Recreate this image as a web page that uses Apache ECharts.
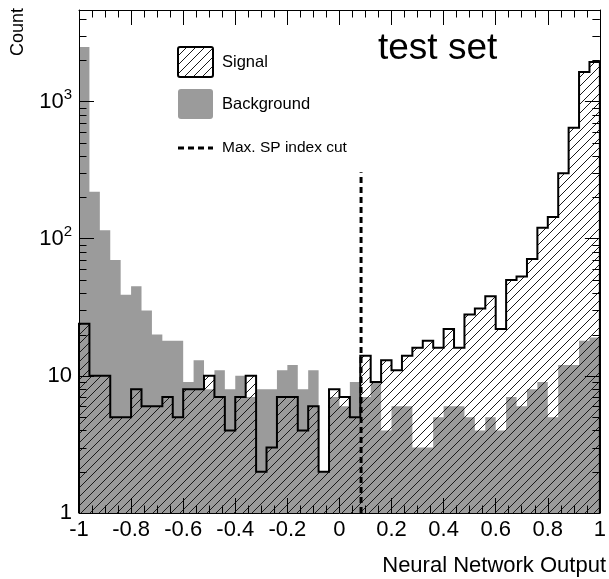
<!DOCTYPE html>
<html><head><meta charset="utf-8">
<script src="https://cdn.jsdelivr.net/npm/echarts@6/dist/echarts.min.js"></script>
<style>html,body{margin:0;padding:0;background:#fff}#c{width:609px;height:579px}</style>
</head><body><div id="c"></div>
<script>
// ---- data ----
const X_MIN = -1, X_MAX = 1, BIN_WIDTH = 0.04;
const Y_MIN = 1, Y_MAX = 4650;
const signalCounts = [24,10,10,5,5,8,6,6,7,5,8,8,10,7,4,7,10,2,3,7,7,4,6,2,8,7,5,14,9,13,11,14,16,18,16,22,16,28,31,38,22,50,53,71,120,144,300,644,1640,1940];
const backgroundCounts = [2500,220,115,70,39,45,30,20,18,18,9,13,8,11,8,10,7,8,8,11,12,8,11,2,7,6,9,7,9,4,6,6,3,3,5,6,6,5,4,5,4,7,6,8,9,5,12,12,18,19];
const cutValue = 0.083, cutTop = 305;
const xTickValues = [-1,-0.8,-0.6,-0.4,-0.2,0,0.2,0.4,0.6,0.8,1];
const xTickLabels = ['-1','-0.8','-0.6','-0.4','-0.2','0','0.2','0.4','0.6','0.8','1'];
const yTickExponents = [0,1,2,3];
const yTickLabels = ['1','10','10{sup|2}','10{sup|3}'];
const yMinorTickValues = [2,3,4,5,6,7,8,9,20,30,40,50,60,70,80,90,200,300,400,500,600,700,800,900,2000,3000,4000];
const legendLabels = ['Signal','Background','Max. SP index cut'];

const FONT = '"Liberation Sans", Arial, Helvetica, sans-serif';
const GRAY = '#9b9b9b';

// hatch pattern
const pc = document.createElement('canvas');
pc.width = 9; pc.height = 9;
const g = pc.getContext('2d');
g.strokeStyle = '#1a1a1a'; g.lineWidth = 1;
g.beginPath();
g.moveTo(-1,10); g.lineTo(10,-1);
g.moveTo(-1,1); g.lineTo(1,-1);
g.moveTo(8,10); g.lineTo(10,8);
g.stroke();
const hatch = {image: pc, repeat: 'repeat'};

function stepData(counts){
  const d = [[X_MIN, Y_MIN]];
  counts.forEach((v,i)=>d.push([X_MIN + i*BIN_WIDTH, v]));
  d.push([X_MAX, counts[counts.length-1]]);
  d.push([X_MAX, Y_MIN]);
  return d;
}

const chart = echarts.init(document.getElementById('c'), null, {renderer:'canvas'});
const axisCommon = {
  axisLine:{show:true, onZero:false, lineStyle:{color:'#000', width:1}},
  axisTick:{show:true, inside:true, length:15, lineStyle:{color:'#000', width:1}},
  splitLine:{show:false}, minorSplitLine:{show:false}
};
const labelStyle = {color:'#000', fontSize:22, fontFamily:FONT};

chart.setOption({
  animation:false,
  backgroundColor:'#fff',
  grid:{left:79, right:5, top:10, bottom:66, show:false},
  xAxis:[
    Object.assign({type:'value', min:X_MIN, max:X_MAX, interval:0.2, position:'bottom', z:10,
      minorTick:{show:true, splitNumber:4, length:7.5, lineStyle:{color:'#000'}},
      axisLabel:Object.assign({margin:6, formatter:v=>{const k=xTickValues.findIndex(t=>Math.abs(t-v)<1e-6); return k>=0?xTickLabels[k]:'';}}, labelStyle)}, axisCommon),
    Object.assign({type:'value', min:X_MIN, max:X_MAX, interval:0.2, position:'top', z:10,
      minorTick:{show:true, splitNumber:4, length:7.5, lineStyle:{color:'#000'}},
      axisLabel:{show:false}}, axisCommon)
  ],
  yAxis:[
    Object.assign({type:'log', logBase:10, min:Y_MIN, max:Y_MAX, position:'left', z:10,
      axisLabel:Object.assign({margin:7, showMaxLabel:false,
        formatter:v=>{const e=Math.log10(v); const r=Math.round(e); if(Math.abs(e-r)>1e-6) return ''; const k=yTickExponents.indexOf(r); return k>=0?yTickLabels[k]:'';},
        rich:{sup:{fontSize:15, fontFamily:FONT, color:'#000', padding:[0,0,14,0]}}}, labelStyle)}, axisCommon),
    Object.assign({type:'log', logBase:10, min:Y_MIN, max:Y_MAX, position:'right', z:10,
      axisLabel:{show:false}}, axisCommon)
  ],
  series:[
    {type:'line', name:'Background', xAxisIndex:0, yAxisIndex:0, step:'end', symbol:'none', z:2,
      data:stepData(backgroundCounts), lineStyle:{width:0, opacity:0},
      areaStyle:{color:GRAY, opacity:1, origin:'start'}},
    {type:'line', name:'Signal', xAxisIndex:0, yAxisIndex:0, step:'end', symbol:'none', z:3,
      data:stepData(signalCounts), lineStyle:{width:2, color:'#000', join:'miter'},
      areaStyle:{color:hatch, opacity:1, origin:'start'}},
    {type:'line', name:'cut', xAxisIndex:0, yAxisIndex:0, symbol:'none', z:4,
      data:[[cutValue, Y_MIN],[cutValue, cutTop]], lineStyle:{width:3, color:'#000', type:[6,4]}},
    {type:'custom', name:'yMinor', xAxisIndex:0, yAxisIndex:0, z:20, silent:true, clip:false,
      data:yMinorTickValues.map(v=>[X_MIN, v]),
      renderItem:(params, api)=>{
        const v = api.value(1);
        const l = api.coord([X_MIN, v]); const r = api.coord([X_MAX, v]);
        const y = Math.round(l[1]) + 0.5;
        return {type:'group', children:[
          {type:'line', shape:{x1:l[0], y1:y, x2:l[0]+7.5, y2:y}, style:{stroke:'#000', lineWidth:1}},
          {type:'line', shape:{x1:r[0]-7.5, y1:y, x2:r[0], y2:y}, style:{stroke:'#000', lineWidth:1}}
        ]};
      }}
  ],
  graphic:[
    {type:'rect', z:100, shape:{x:178, y:47, width:35, height:30, r:2}, style:{fill:hatch, stroke:'#000', lineWidth:2}},
    {type:'rect', z:100, shape:{x:178, y:89, width:35, height:30, r:3}, style:{fill:GRAY}},
    {type:'line', z:100, shape:{x1:178, y1:148, x2:213, y2:148}, style:{stroke:'#000', lineWidth:3, lineDash:[6,4]}},
    {type:'text', z:100, x:222, y:62, style:{text:legendLabels[0], fontSize:16.5, fontFamily:FONT, fill:'#000', align:'left', verticalAlign:'middle', textAlign:'left', textVerticalAlign:'middle'}},
    {type:'text', z:100, x:222, y:104, style:{text:legendLabels[1], fontSize:16.5, fontFamily:FONT, fill:'#000', align:'left', verticalAlign:'middle', textAlign:'left', textVerticalAlign:'middle'}},
    {type:'text', z:100, x:222, y:148, style:{text:legendLabels[2], fontSize:15.5, fontFamily:FONT, fill:'#000', align:'left', verticalAlign:'middle', textAlign:'left', textVerticalAlign:'middle'}},
    {type:'text', z:100, x:378, y:49, style:{text:'test set', fontSize:37, fontFamily:FONT, fill:'#000', align:'left', verticalAlign:'middle', textAlign:'left', textVerticalAlign:'middle'}},
    {type:'text', z:100, x:606, y:566, style:{text:'Neural Network Output', fontSize:22, fontFamily:FONT, fill:'#000', align:'right', verticalAlign:'middle', textAlign:'right', textVerticalAlign:'middle'}},
    {type:'text', z:100, x:18, y:8, rotation:Math.PI/2, style:{text:'Count', fontSize:18, fontFamily:FONT, fill:'#000', align:'right', verticalAlign:'middle', textAlign:'right', textVerticalAlign:'middle'}}
  ]
});
</script></body></html>
